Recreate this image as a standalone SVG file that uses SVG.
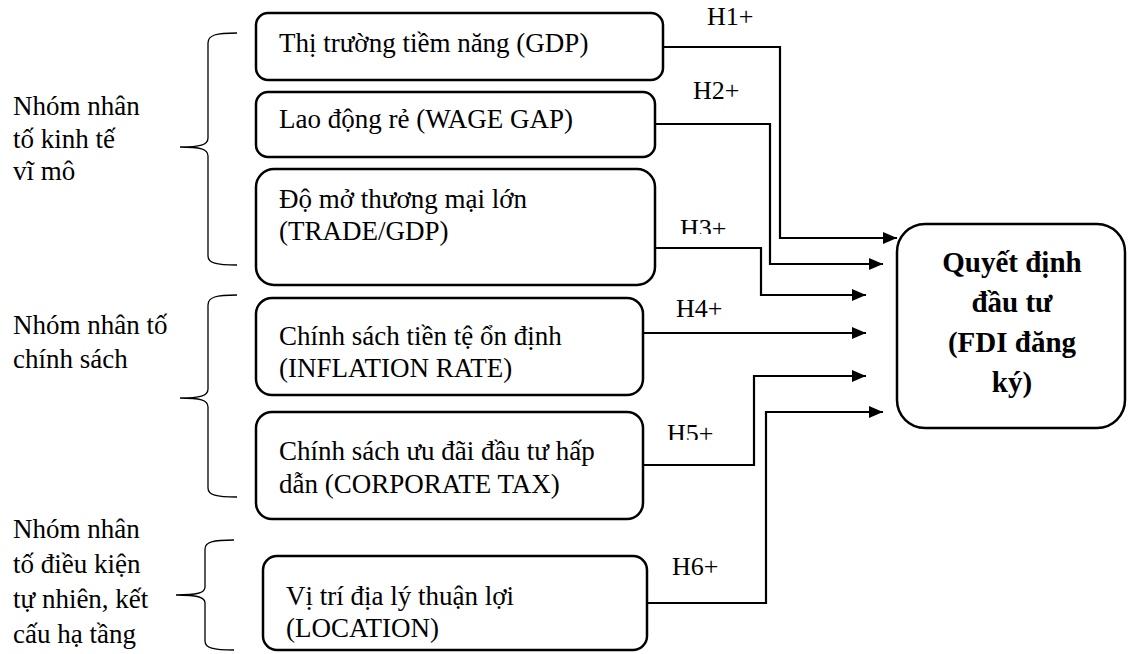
<svg xmlns="http://www.w3.org/2000/svg" width="1128" height="654" viewBox="0 0 1128 654" font-family="Liberation Serif, serif">
<style>
  text { font-size: 27px; fill: #000; }
  .h { font-size: 26px; }
  .box { fill: #fff; stroke: #000; stroke-width: 2.5; }
  .brace { fill: none; stroke: #000; stroke-width: 1.3; }
  .conn { fill: none; stroke: #000; stroke-width: 2.2; }
  .bold { font-weight: bold; font-size: 29px; }
</style>
<defs>
  <marker id="arr" viewBox="0 0 14 12" refX="14" refY="6" markerWidth="14" markerHeight="12" markerUnits="userSpaceOnUse" orient="auto">
    <path d="M0,0 L14,6 L0,12 z" fill="#000"/>
  </marker>
  <clipPath id="clipH3"><rect x="660" y="190" width="100" height="44"/></clipPath>
  <clipPath id="clipH5"><rect x="650" y="400" width="100" height="40"/></clipPath>
</defs>

<g id="group-labels" font-family="Liberation Serif, serif">
  <g id="group-macro">
    <text x="13" y="115">Nhóm nhân</text>
    <text x="13" y="148">tố kinh tế</text>
    <text x="13" y="180">vĩ mô</text>
    <path class="brace" d="M237,33 C216,33 208,35 208,43 V138 C208,145 200,147 180,147 C200,147 208,149 208,156 V256 C208,263 216,265 237,265"/>
  </g>
  <g id="group-policy">
    <text x="13" y="334">Nhóm nhân tố</text>
    <text x="13" y="368">chính sách</text>
    <path class="brace" d="M237,295 C216,295 208,297 208,305 V389 C208,396 200,398 180,398 C200,398 208,400 208,407 V488 C208,495 216,497 237,497"/>
  </g>
  <g id="group-infra">
    <text x="13" y="538">Nhóm nhân</text>
    <text x="13" y="573">tố điều kiện</text>
    <text x="13" y="608">tự nhiên, kết</text>
    <text x="13" y="643">cấu hạ tầng</text>
    <path class="brace" d="M234,540 C213,540 205,542 205,549 V587 C205,593 197,595 176,595 C197,595 205,597 205,603 V641 C205,648 213,650 234,650"/>
  </g>
</g>

<g id="node-gdp" font-family="Liberation Serif, serif">
  <rect class="box" x="256" y="13" width="407" height="67" rx="12"/>
  <text x="279" y="52">Thị trường tiềm năng (GDP)</text>
</g>
<g id="node-wage" font-family="Liberation Serif, serif">
  <rect class="box" x="256" y="92" width="399" height="65" rx="12"/>
  <text x="279" y="128">Lao động rẻ (WAGE GAP)</text>
</g>
<g id="node-trade" font-family="Liberation Serif, serif">
  <rect class="box" x="256" y="169" width="399" height="116" rx="18"/>
  <text x="279" y="208">Độ mở thương mại lớn</text>
  <text x="279" y="240">(TRADE/GDP)</text>
</g>
<g id="node-inflation" font-family="Liberation Serif, serif">
  <rect class="box" x="256" y="298" width="387" height="97" rx="16"/>
  <text x="279" y="345">Chính sách tiền tệ ổn định</text>
  <text x="279" y="377">(INFLATION RATE)</text>
</g>
<g id="node-tax" font-family="Liberation Serif, serif">
  <rect class="box" x="256" y="412" width="387" height="107" rx="16"/>
  <text x="279" y="460">Chính sách ưu đãi đầu tư hấp</text>
  <text x="279" y="493">dẫn (CORPORATE TAX)</text>
</g>
<g id="node-location" font-family="Liberation Serif, serif">
  <rect class="box" x="263" y="556" width="384" height="94" rx="14"/>
  <text x="286" y="605">Vị trí địa lý thuận lợi</text>
  <text x="286" y="637">(LOCATION)</text>
</g>
<g id="node-fdi" font-family="Liberation Serif, serif">
  <rect class="box" x="897" y="224" width="228" height="204" rx="28"/>
  <text class="bold" x="1012" y="272" text-anchor="middle">Quyết định</text>
  <text class="bold" x="1012" y="312" text-anchor="middle">đầu tư</text>
  <text class="bold" x="1012" y="352" text-anchor="middle">(FDI đăng</text>
  <text class="bold" x="1012" y="392" text-anchor="middle">ký)</text>
</g>

<g id="connectors" font-family="Liberation Serif, serif">
  <path class="conn" d="M663,47 H780 V238 H897" marker-end="url(#arr)"/>
  <path class="conn" d="M655,124 H770 V264 H883" marker-end="url(#arr)"/>
  <path class="conn" d="M655,248 H761 V295 H866" marker-end="url(#arr)"/>
  <path class="conn" d="M643,333 H866" marker-end="url(#arr)"/>
  <path class="conn" d="M643,465 H754 V376 H866" marker-end="url(#arr)"/>
  <path class="conn" d="M647,603 H766 V412 H883" marker-end="url(#arr)"/>
  <text class="h" x="707" y="25">H1+</text>
  <text class="h" x="693" y="99">H2+</text>
  <text class="h" x="680" y="237" clip-path="url(#clipH3)">H3+</text>
  <text class="h" x="676" y="317">H4+</text>
  <text class="h" x="667" y="442" clip-path="url(#clipH5)">H5+</text>
  <text class="h" x="672" y="575">H6+</text>
</g>
</svg>
